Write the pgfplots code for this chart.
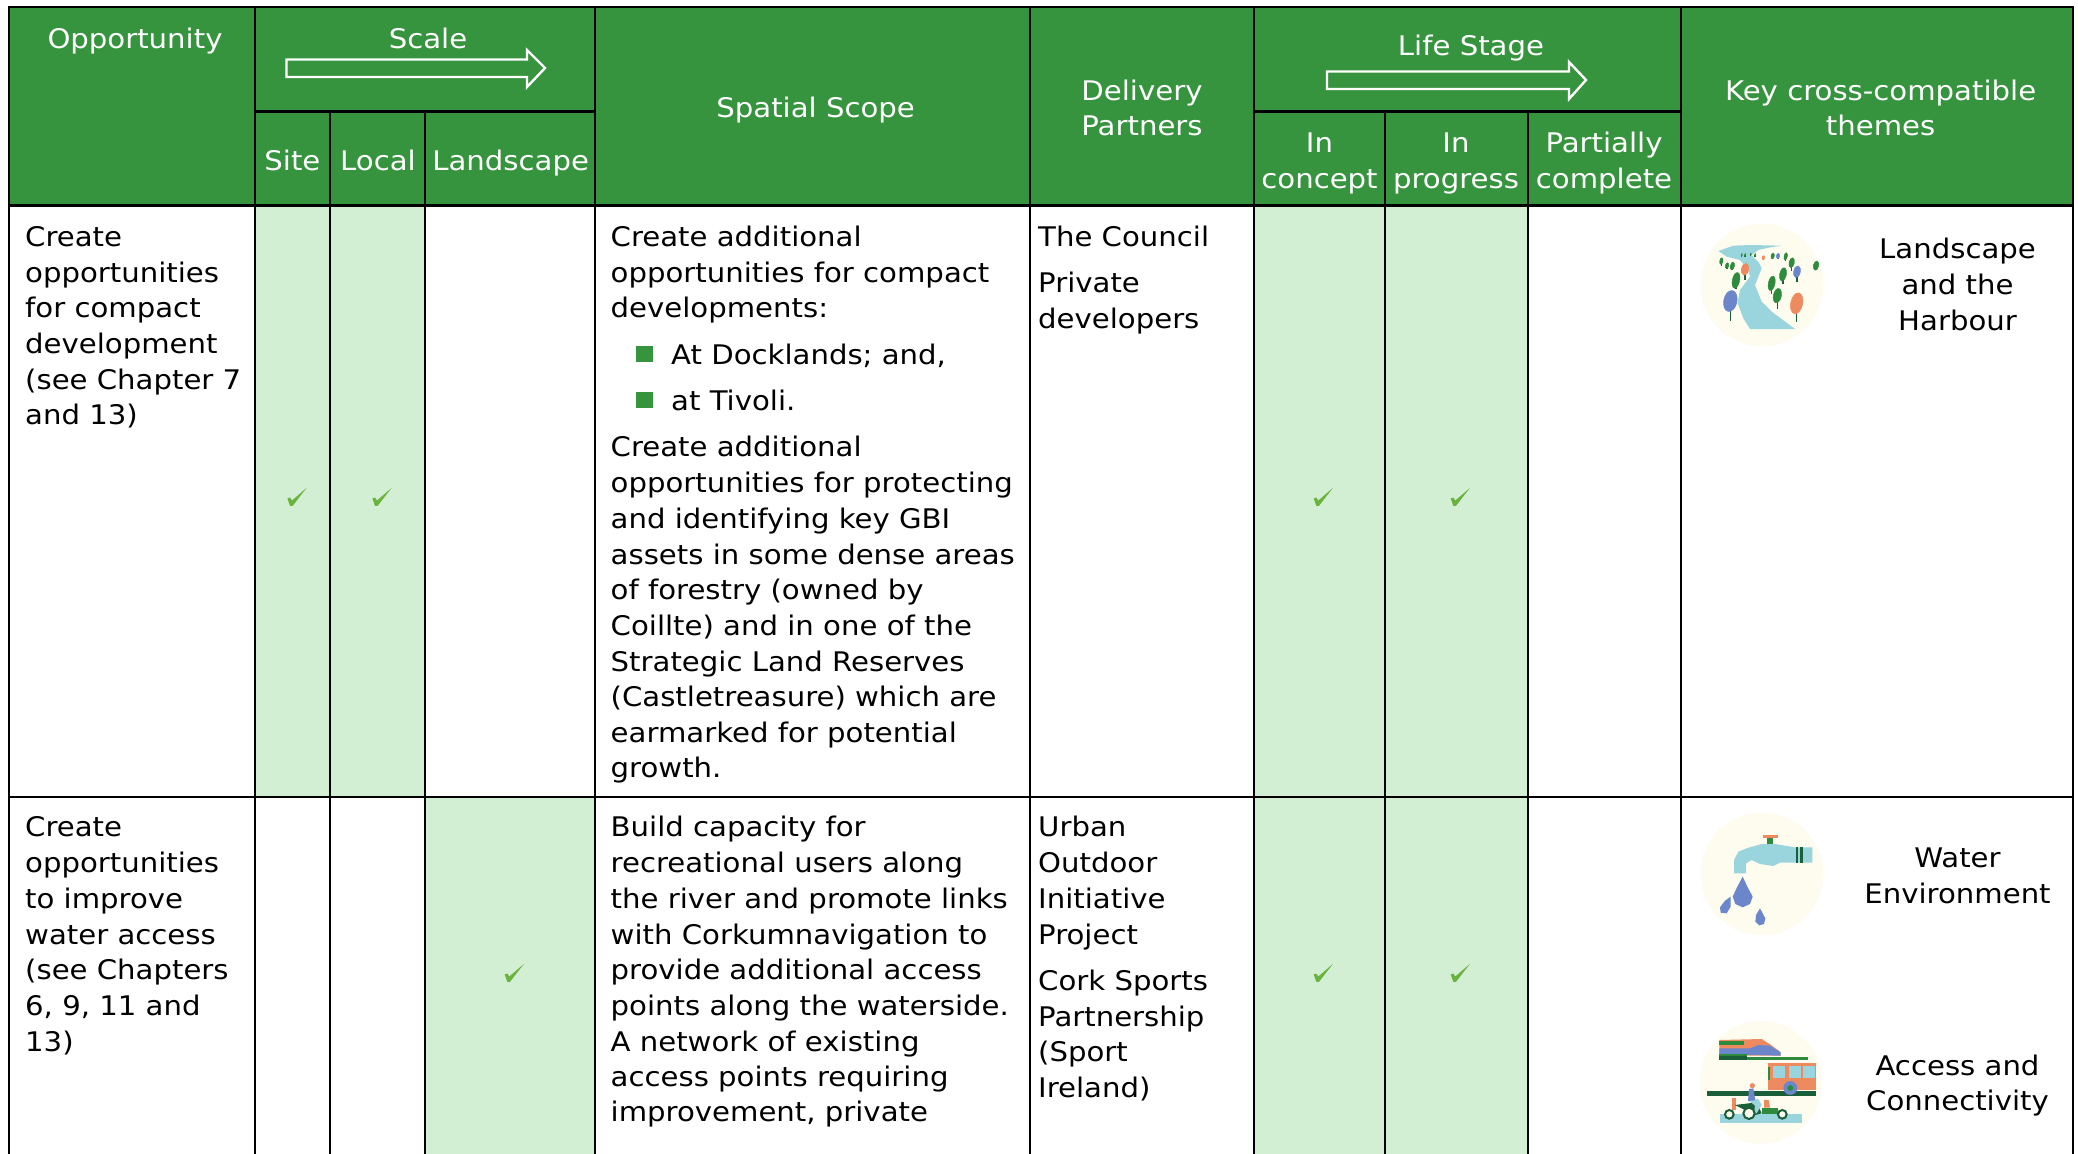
\documentclass[border=0pt]{standalone}
\usepackage{pgfplots}
\pgfplotsset{compat=1.18}
\usepackage{fontspec}
\setmainfont[FakeStretch=1.08]{DejaVu Sans}
\definecolor{hdr}{HTML}{37943E}
\definecolor{cell}{HTML}{D2EED3}
\definecolor{chk}{HTML}{6BB33F}
\definecolor{cream}{HTML}{FDFCEE}
\definecolor{lblue}{HTML}{9AD5DE}
\definecolor{dgreen}{HTML}{1A5E3A}
\definecolor{mgreen}{HTML}{2E8B3D}
\definecolor{orng}{HTML}{EE8A5F}
\definecolor{bblue}{HTML}{6C86CC}
\pgfdeclareplotmark{chkmark}{\pgfpathmoveto{\pgfpoint{-9.3pt}{-2pt}}\pgfpathlineto{\pgfpoint{-6.7pt}{-1pt}}\pgfpathlineto{\pgfpoint{-4.7pt}{-4pt}}\pgfpathlineto{\pgfpoint{10pt}{8.7pt}}\pgfpathlineto{\pgfpoint{-4pt}{-9.3pt}}\pgfpathlineto{\pgfpoint{-6.7pt}{-9.3pt}}\pgfpathclose\pgfusepath{fill}}
\newcommand{\ft}{\fontsize{27}{35}\selectfont}
\newcommand{\TL}[3]{\node[anchor=base west,inner sep=0pt,font=\ft,text=black] at (axis cs:#1,#2) {#3};}
\newcommand{\TC}[3]{\node[anchor=base,inner sep=0pt,font=\ft,text=black] at (axis cs:#1,#2) {#3};}
\newcommand{\HC}[3]{\node[anchor=base,inner sep=0pt,font=\ft,text=white] at (axis cs:#1,#2) {#3};}
\newcommand{\Rct}[5]{\addplot[fill=#1,draw=none] coordinates {(#2,#3) (#4,#3) (#4,#5) (#2,#5)} --cycle;}
\newcommand{\Ln}[5]{\addplot[black,line width=#1] coordinates {(#2,#3) (#4,#5)};}
\newcommand{\Poly}[2]{\addplot[fill=#1,draw=none] coordinates {#2} --cycle;}
\newcommand{\Dot}[4]{\addplot[only marks,mark=*,mark size={#4/3},mark options={solid,draw=#1,fill=#1}] coordinates {(#2,#3)};}
\newcommand{\Ring}[4]{\addplot[only marks,mark=*,mark size={#4/3},mark options={solid,draw=dgreen,line width=2pt,fill=cream}] coordinates {(#2,#3)};}
\newcommand{\Tree}[6]{\addplot[dgreen,line width=1.2pt] coordinates {(#2,#3) (#2,#6)};
\addplot[only marks,mark=*,mark size={#4/3},mark options={solid,draw=#1,fill=#1,rotate=-12,yscale={#5/#4}}] coordinates {(#2,#3)};}
\pgfplotsset{base/.style={at={(0,0)},anchor=south west,width=2078pt,height=1154pt,scale only axis,hide axis,y dir=reverse,clip=true}}
\begin{document}
\begin{tikzpicture}
\begin{axis}[base,xmin=0,xmax=2078,ymin=0,ymax=1154]
\Rct{white}{0}{0}{2078}{1154}
\Rct{hdr}{9}{7}{2073}{205.5}
\Rct{cell}{254.5}{205.5}{425.4}{796.5}
\Rct{cell}{1253.7}{205.5}{1528}{796.5}
\Rct{cell}{425.4}{796.5}{595}{1154}
\Rct{cell}{1253.7}{796.5}{1528}{1154}
% rules
\Ln{2.6pt}{8}{7}{2074}{7}
\Ln{2.6pt}{8}{205.5}{2074}{205.5}
\Ln{2pt}{8}{796.5}{2074}{796.5}
\Ln{2.6pt}{254.5}{111.5}{595}{111.5}
\Ln{2.6pt}{1253.7}{111.5}{1680.5}{111.5}
\Ln{2pt}{9.3}{7}{9.3}{1154}
\Ln{2pt}{254.5}{7}{254.5}{1154}
\Ln{2pt}{330}{111.5}{330}{1154}
\Ln{2pt}{425.4}{111.5}{425.4}{1154}
\Ln{2pt}{595}{7}{595}{1154}
\Ln{2pt}{1029.8}{7}{1029.8}{1154}
\Ln{2pt}{1253.7}{7}{1253.7}{1154}
\Ln{2pt}{1385}{111.5}{1385}{1154}
\Ln{2pt}{1528}{111.5}{1528}{1154}
\Ln{2pt}{1680.5}{7}{1680.5}{1154}
\Ln{2pt}{2073}{7}{2073}{1154}
% arrows
\addplot[white,line width=2.4pt] coordinates {(286.5,59.5) (527,59.5) (527,50) (545,68) (527,87) (527,77) (286.5,77)} --cycle;
\addplot[white,line width=2.4pt] coordinates {(1327,71.5) (1569,71.5) (1569,62) (1586,80) (1569,99) (1569,89) (1327,89)} --cycle;
% bullets
\Rct{hdr}{635.5}{346}{653}{362}
\Rct{hdr}{635.5}{392}{653}{408}
% checks
\addplot[only marks,mark=chkmark,mark options={fill=chk,draw=none}] coordinates {(296.7,496.5) (381.7,496.5) (1323,496.5) (1460,496.5) (514,972.5) (1323,972.5) (1460,972.5)};
% header text
\HC{135}{48}{Opportunity}
\HC{428}{48}{Scale}
\HC{292.4}{170.7}{Site}
\HC{378}{170.7}{Local}
\HC{510.6}{170.7}{Landscape}
\HC{815.6}{117}{Spatial Scope}
\HC{1142}{100.7}{Delivery}
\HC{1142}{135}{Partners}
\HC{1471}{55}{Life Stage}
\HC{1319.5}{152.7}{In}
\HC{1319.5}{188}{concept}
\HC{1456}{152.7}{In}
\HC{1456}{188}{progress}
\HC{1604}{152.7}{Partially}
\HC{1604}{188}{complete}
\HC{1880.6}{100.7}{Key cross-compatible}
\HC{1880.6}{135}{themes}
% column 1
\TL{25}{246}{Create}
\TL{25}{282.3}{opportunities}
\TL{25}{317.3}{for compact}
\TL{25}{353.3}{development}
\TL{25}{389}{(see Chapter 7}
\TL{25}{424}{and 13)}
\TL{25}{836.5}{Create}
\TL{25}{872.5}{opportunities}
\TL{25}{908}{to improve}
\TL{25}{944}{water access}
\TL{25}{979.5}{(see Chapters}
\TL{25}{1015}{6, 9, 11 and}
\TL{25}{1051}{13)}
% spatial scope
\TL{610.5}{246}{Create additional}
\TL{610.5}{282.3}{opportunities for compact}
\TL{610.5}{317.3}{developments:}
\TL{671}{364}{At Docklands; and,}
\TL{671}{410}{at Tivoli.}
\TL{610.5}{456.5}{Create additional}
\TL{610.5}{492.5}{opportunities for protecting}
\TL{610.5}{528}{and identifying key GBI}
\TL{610.5}{564}{assets in some dense areas}
\TL{610.5}{599.5}{of forestry (owned by}
\TL{610.5}{635}{Coillte) and in one of the}
\TL{610.5}{671}{Strategic Land Reserves}
\TL{610.5}{706.6}{(Castletreasure) which are}
\TL{610.5}{742}{earmarked for potential}
\TL{610.5}{777.5}{growth.}
\TL{610.5}{836.5}{Build capacity for}
\TL{610.5}{872.5}{recreational users along}
\TL{610.5}{908}{the river and promote links}
\TL{610.5}{944}{with Corkumnavigation to}
\TL{610.5}{979.5}{provide additional access}
\TL{610.5}{1015}{points along the waterside.}
\TL{610.5}{1051}{A network of existing}
\TL{610.5}{1086}{access points requiring}
\TL{610.5}{1121.5}{improvement, private}
% delivery
\TL{1038}{246}{The Council}
\TL{1038}{292.5}{Private}
\TL{1038}{328.5}{developers}
\TL{1038}{836.5}{Urban}
\TL{1038}{872.5}{Outdoor}
\TL{1038}{908}{Initiative}
\TL{1038}{944}{Project}
\TL{1038}{990}{Cork Sports}
\TL{1038}{1026}{Partnership}
\TL{1038}{1061}{(Sport}
\TL{1038}{1097}{Ireland)}
% themes
\TC{1957.5}{258}{Landscape}
\TC{1957.5}{294}{and the}
\TC{1957.5}{330}{Harbour}
\TC{1957.5}{867}{Water}
\TC{1957.5}{903}{Environment}
\TC{1957.5}{1075}{Access and}
\TC{1957.5}{1110.5}{Connectivity}
% icon discs
\addplot[only marks,mark=*,mark size=61pt,mark options={solid,draw=cream,fill=cream}] coordinates {(1762,285) (1762,874) (1761,1082.3)};
\end{axis}
% Landscape icon, in crop units
\begin{axis}[base,xmin=-5070,xmax=1164,ymin=-645,ymax=2817]
\Poly{lblue}{(85,108) (130,92) (180,90) (275,92) (235,98) (205,105) (185,120) (205,140) (215,160) (205,185) (195,210) (215,260) (245,290) (315,342) (180,342) (160,310) (143,265) (150,225) (180,185) (175,165) (150,135) (110,125)}
\Poly{cream}{(185,120) (290,140) (220,143) (205,140)}
\Tree{bblue}{121}{258}{20}{32}{317}
\Tree{orng}{320}{265}{18}{32}{320}
\Tree{mgreen}{262}{242}{12}{22}{282}
\Tree{mgreen}{245}{205}{10}{22}{237}
\Tree{mgreen}{279}{178}{10}{20}{208}
\Tree{mgreen}{138}{196}{11}{24}{222}
\Tree{orng}{165}{163}{11}{18}{195}
\Tree{bblue}{321}{170}{10}{18}{200}
\Tree{mgreen}{305}{143}{8}{15}{168}
\Tree{mgreen}{378}{152}{8}{14}{166}
\Tree{mgreen}{94}{138}{5}{10}{152}
\Tree{mgreen}{111}{152}{5}{9}{162}
\Tree{mgreen}{127}{153}{6}{12}{166}
\Tree{orng}{220}{128}{4}{6}{135}
\Tree{mgreen}{248}{123}{5}{9}{133}
\Tree{bblue}{264}{123}{5}{8}{132}
\Tree{mgreen}{287}{124}{5}{11}{138}
\Tree{mgreen}{155}{120}{2}{5}{127}
\Tree{mgreen}{165}{120}{2}{5}{127}
\Tree{mgreen}{182}{118}{2}{4}{124}
\Tree{mgreen}{195}{120}{2}{5}{127}
\end{axis}
% Water icon, in crop units
\begin{axis}[base,xmin=-4980,xmax=1254,ymin=-2340,ymax=1122]
\Poly{lblue}{(222,280) (222,240) (235,215) (262,204) (305,192) (345,192) (405,202) (457,202) (457,248) (360,248) (340,258) (300,252) (275,240) (258,250) (258,280)}
\Rct{orng}{308}{165}{353}{175}
\Rct{mgreen}{322}{175}{338}{192}
\Rct{dgreen}{408}{202}{415}{248}
\Rct{dgreen}{420}{202}{428}{248}
\Poly{bblue}{(248,290) (262,320) (278,350) (270,372) (248,382) (226,372) (218,350) (232,320)}
\Poly{bblue}{(212,350) (212,380) (200,400) (182,398) (180,382) (195,362)}
\Poly{bblue}{(300,385) (316,415) (312,432) (298,436) (286,425) (288,405)}
\end{axis}
% Access icon, in crop units
\begin{axis}[base,xmin=-5070,xmax=1164,ymin=-3045,ymax=417]
\Poly{orng}{(88,75) (215,72) (240,88) (270,110) (272,122) (88,122)}
\Rct{mgreen}{88}{78}{162}{90}
\Poly{bblue}{(88,100) (180,100) (205,90) (240,92) (272,112) (272,122) (88,118)}
\Rct{mgreen}{88}{118}{172}{124}
\Rct{dgreen}{88}{124}{172}{134}
\Rct{mgreen}{172}{127}{353}{134}
\Rct{orng}{235}{143}{378}{225}
\Rct{lblue}{248}{152}{285}{188}
\Rct{lblue}{298}{152}{334}{188}
\Rct{lblue}{340}{152}{374}{188}
\Rct{mgreen}{234}{155}{240}{195}
\Dot{bblue}{301}{219}{20}
\Dot{mgreen}{301}{219}{8}
\Rct{dgreen}{50}{227}{378}{243}
\Rct{lblue}{90}{296}{337}{324}
\Rct{orng}{125}{250}{137}{285}
\Ring{x}{118}{298}{13}
\Ring{x}{177}{295}{17}
\Ring{x}{277}{298}{13}
\Poly{dgreen}{(135,270) (200,262) (215,295) (195,300)}
\Rct{mgreen}{215}{278}{265}{296}
\Poly{orng}{(222,255) (236,255) (240,278) (222,278)}
\Poly{lblue}{(178,258) (205,252) (215,270) (200,295) (192,295) (195,272)}
\Poly{bblue}{(177,222) (190,220) (196,256) (174,258)}
\Dot{orng}{187}{212}{7}
\end{axis}
\end{tikzpicture}
\end{document}
